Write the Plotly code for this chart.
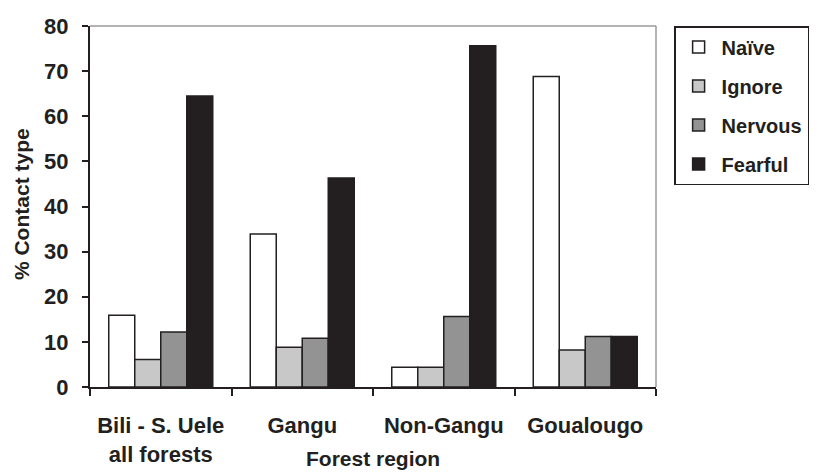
import plotly.graph_objects as go

categories = ["Bili - S. Uele<br>all forests", "Gangu", "Non-Gangu", "Goualougo"]
series_names = ["Naïve", "Ignore", "Nervous", "Fearful"]
naive = [15.9, 33.9, 4.4, 68.8]
ignore = [6.1, 8.8, 4.4, 8.2]
nervous = [12.2, 10.8, 15.6, 11.2]
fearful = [64.5, 46.3, 75.6, 11.2]
y_ticks = [0, 10, 20, 30, 40, 50, 60, 70, 80]

colors = ["#ffffff", "#c8c8c8", "#939393", "#231f20"]
values = [naive, ignore, nervous, fearful]

fig = go.Figure()
for name, vals, col in zip(series_names, values, colors):
    fig.add_trace(go.Bar(
        x=categories, y=vals, name=name, legendgroup=name,
        marker=dict(color=col, line=dict(color="#231f20", width=1.5)),
    ))

font_family = "Arial, Liberation Sans, sans-serif"
ink = "#231f20"
fig.update_layout(
    width=811, height=464,
    margin=dict(l=82, r=163, t=18, b=85, autoexpand=False),
    paper_bgcolor="white", plot_bgcolor="white",
    barmode="group", bargap=0.265, bargroupgap=0,
    font=dict(family=font_family, size=22, color=ink),
    showlegend=True,
    legend=dict(
        x=1.032, y=1.0, xanchor="left", yanchor="top",
        bordercolor=ink, borderwidth=1.5, bgcolor="white",
        font=dict(family=font_family, size=20, color=ink, weight="bold"),
        tracegroupgap=10, itemwidth=36, entrywidth=108, entrywidthmode="pixels",
    ),
    xaxis=dict(
        showline=True, linecolor=ink, linewidth=2,
        ticks="outside", tickson="boundaries", ticklen=7, tickwidth=1.5, tickcolor=ink,
        tickfont=dict(size=22, weight="bold"),
        ticklabelstandoff=18,
        showgrid=False, automargin=False,
    ),
    yaxis=dict(
        range=[0, 80], tickvals=y_ticks,
        showline=True, linecolor=ink, linewidth=2,
        ticks="outside", ticklen=6, tickwidth=1.5, tickcolor=ink,
        tickfont=dict(size=22, weight="bold"),
        ticklabelstandoff=9,
        showgrid=False, zeroline=False, automargin=False,
    ),
)

# gray top and right frame lines
fig.add_shape(type="line", xref="paper", yref="paper", x0=0, x1=1, y0=1, y1=1,
              line=dict(color="#9a9a9a", width=1.5))
fig.add_shape(type="line", xref="paper", yref="paper", x0=1, x1=1, y0=0, y1=1,
              line=dict(color="#9a9a9a", width=1.5))

fig.add_annotation(text="Forest region", xref="paper", yref="paper", x=0.5, y=-0.198,
                   xanchor="center", yanchor="middle", showarrow=False,
                   font=dict(size=21, weight="bold", color=ink))
fig.add_annotation(text="% Contact type", xref="paper", yref="paper", x=-0.120, y=0.507,
                   xanchor="center", yanchor="middle", showarrow=False, textangle=-90,
                   font=dict(size=21, weight="bold", color=ink))

fig.write_html("out.html")
